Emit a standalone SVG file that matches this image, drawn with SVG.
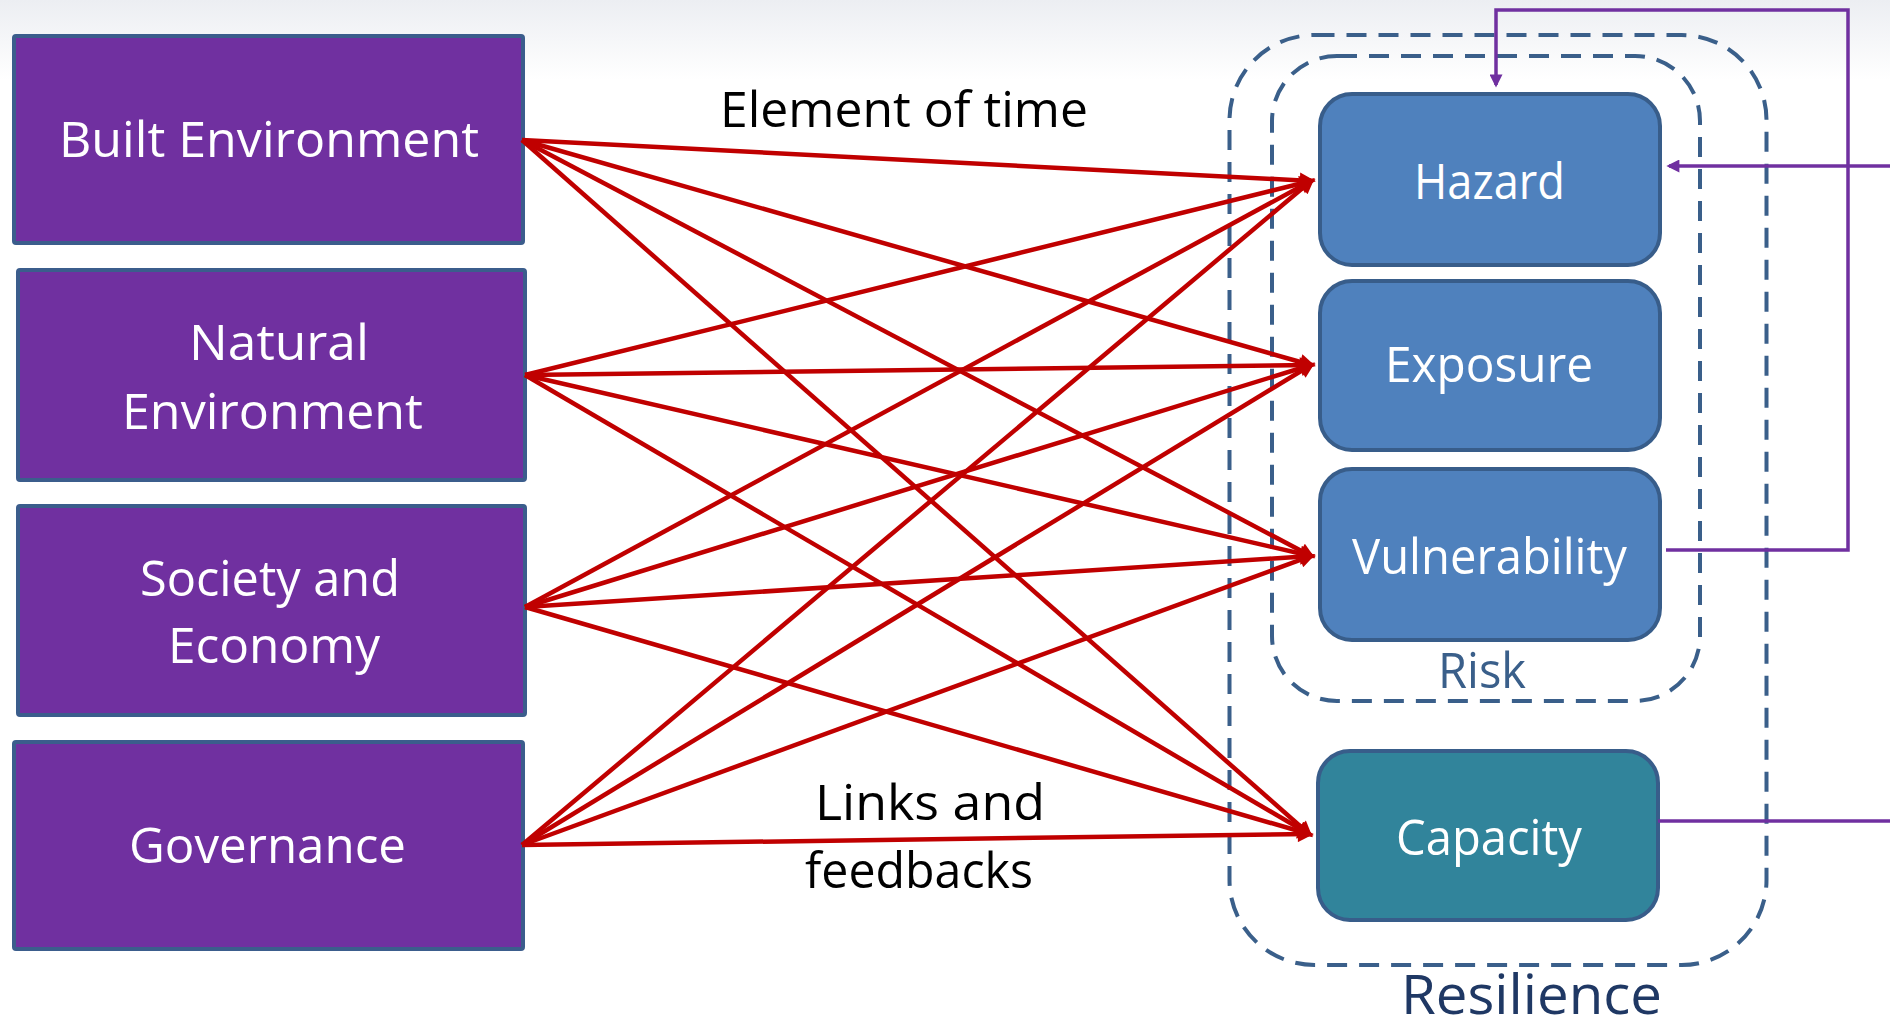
<svg xmlns="http://www.w3.org/2000/svg" width="1890" height="1028" viewBox="0 0 1890 1028">
<defs>
<linearGradient id="bg" x1="0" y1="0" x2="0" y2="1"><stop offset="0" stop-color="#eceef2"/><stop offset="1" stop-color="#ffffff"/></linearGradient>
<marker id="ar" viewBox="0 0 10 10" refX="7" refY="5" markerWidth="18" markerHeight="16" markerUnits="userSpaceOnUse" orient="auto"><path d="M0,0 L10,5 L0,10 z" fill="#c00000"/></marker>
<marker id="ap" viewBox="0 0 10 10" refX="8" refY="5" markerWidth="14" markerHeight="13" markerUnits="userSpaceOnUse" orient="auto"><path d="M0,0 L10,5 L0,10 z" fill="#7030a0"/></marker>
</defs>
<style>
.src{fill:#7030a0;stroke:#3b5d8c;stroke-width:4}
.rk{fill:#4f81bd;stroke:#385d8a;stroke-width:4}
.cap{fill:#31849b;stroke:#385d8a;stroke-width:4}
.wt{font-family:"Open Sans","Noto Sans",sans-serif;font-size:50px;fill:#ffffff}
.bt{font-family:"Open Sans","Noto Sans",sans-serif;font-size:50px;fill:#000000}
.dash{fill:none;stroke:#3a5f8a;stroke-width:4;stroke-dasharray:20 12}
.red{stroke:#c00000;stroke-width:4.5;fill:none;marker-end:url(#ar)}
.pur{stroke:#7030a0;stroke-width:3.5;fill:none}
</style>
<rect x="0" y="0" width="1890" height="1028" fill="#ffffff"/>
<rect x="0" y="0" width="1890" height="80" fill="url(#bg)"/>

<g id="resilience">
<rect class="dash" x="1229.5" y="35" width="537" height="930" rx="85"/>
<text x="1401" y="1014" textLength="261" lengthAdjust="spacingAndGlyphs" style="font-family:'Open Sans','Noto Sans',sans-serif;font-size:55px;fill:#1f3864">Resilience</text>
</g>
<g id="risk">
<rect class="dash" x="1272" y="56" width="428" height="645" rx="65"/>
<text x="1438" y="688" textLength="88" lengthAdjust="spacingAndGlyphs" style="font-family:'Open Sans','Noto Sans',sans-serif;font-size:50px;fill:#3a5f8a">Risk</text>
</g>

<g id="built-environment">
<rect class="src" x="14" y="36" width="509" height="207" rx="2"/>
<text class="wt" x="59" y="157" textLength="420" lengthAdjust="spacingAndGlyphs">Built Environment</text>
</g>
<g id="natural-environment">
<rect class="src" x="18" y="270" width="507" height="210" rx="2"/>
<text class="wt" x="189" y="360" textLength="180" lengthAdjust="spacingAndGlyphs">Natural</text>
<text class="wt" x="122" y="429" textLength="301" lengthAdjust="spacingAndGlyphs">Environment</text>
</g>
<g id="society-economy">
<rect class="src" x="18" y="506" width="507" height="209" rx="2"/>
<text class="wt" x="140" y="596" textLength="260" lengthAdjust="spacingAndGlyphs">Society and</text>
<text class="wt" x="168" y="663" textLength="212" lengthAdjust="spacingAndGlyphs">Economy</text>
</g>
<g id="governance">
<rect class="src" x="14" y="742" width="509" height="207" rx="2"/>
<text class="wt" x="129" y="863" textLength="277" lengthAdjust="spacingAndGlyphs">Governance</text>
</g>

<g id="hazard">
<rect class="rk" x="1320" y="94" width="340" height="171" rx="32"/>
<text class="wt" x="1414" y="199" textLength="151" lengthAdjust="spacingAndGlyphs">Hazard</text>
</g>
<g id="exposure">
<rect class="rk" x="1320" y="281" width="340" height="169" rx="32"/>
<text class="wt" x="1385" y="382" textLength="208" lengthAdjust="spacingAndGlyphs">Exposure</text>
</g>
<g id="vulnerability">
<rect class="rk" x="1320" y="469" width="340" height="171" rx="32"/>
<text class="wt" x="1352" y="574" textLength="275" lengthAdjust="spacingAndGlyphs">Vulnerability</text>
</g>
<g id="capacity">
<rect class="cap" x="1318" y="751" width="340" height="169" rx="32"/>
<text class="wt" x="1396" y="855" textLength="186" lengthAdjust="spacingAndGlyphs">Capacity</text>
</g>

<g id="labels">
<text class="bt" x="720" y="127" textLength="368" lengthAdjust="spacingAndGlyphs">Element of time</text>
<text class="bt" x="815" y="820" textLength="230" lengthAdjust="spacingAndGlyphs">Links and</text>
<text class="bt" x="805" y="888" textLength="228" lengthAdjust="spacingAndGlyphs">feedbacks</text>
</g>

<g id="connectors">
<line class="red" x1="522" y1="140" x2="1311" y2="181"/>
<line class="red" x1="522" y1="140" x2="1311" y2="365"/>
<line class="red" x1="522" y1="140" x2="1311" y2="556"/>
<line class="red" x1="522" y1="140" x2="1309" y2="834"/>
<line class="red" x1="525" y1="375" x2="1311" y2="181"/>
<line class="red" x1="525" y1="375" x2="1311" y2="365"/>
<line class="red" x1="525" y1="375" x2="1311" y2="556"/>
<line class="red" x1="525" y1="375" x2="1309" y2="834"/>
<line class="red" x1="525" y1="607" x2="1311" y2="181"/>
<line class="red" x1="525" y1="607" x2="1311" y2="365"/>
<line class="red" x1="525" y1="607" x2="1311" y2="556"/>
<line class="red" x1="525" y1="607" x2="1309" y2="834"/>
<line class="red" x1="522" y1="845" x2="1311" y2="181"/>
<line class="red" x1="522" y1="845" x2="1311" y2="365"/>
<line class="red" x1="522" y1="845" x2="1311" y2="556"/>
<line class="red" x1="522" y1="845" x2="1309" y2="834"/>
<path class="pur" d="M1666,550 H1848 V10 H1496 V85" marker-end="url(#ap)"/>
<path class="pur" d="M1658,821 H1890"/>
<path class="pur" d="M1890,166 H1669" marker-end="url(#ap)"/>
</g>
</svg>
